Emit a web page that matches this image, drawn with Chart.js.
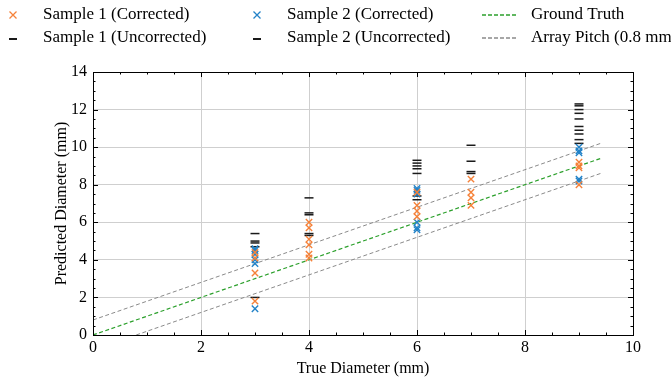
<!DOCTYPE html>
<html>
<head>
<meta charset="utf-8">
<script src="https://cdn.jsdelivr.net/npm/chart.js@4.4.1/dist/chart.umd.min.js"></script>
<style>
  html, body { margin: 0; padding: 0; background: #fff; overflow: hidden; }
  #wrap { width: 671px; height: 379px; position: relative; }
</style>
</head>
<body>
<div id="wrap"><canvas id="diamChart" width="671" height="379"></canvas></div>
<script>
// predicted vs true diameter, two samples, corrected and uncorrected
const s1CorrX = [3, 3, 3, 3, 4, 4, 4, 4, 4, 4, 6, 6, 6, 6, 7, 7, 7, 7, 9, 9, 9, 9];
const s1CorrY = [4.4, 4.1, 3.3, 1.8, 6.0, 5.7, 5.1, 4.8, 4.3, 4.1, 7.6, 6.9, 6.6, 6.3, 8.3, 7.6, 7.3, 6.9, 9.2, 9.0, 8.9, 8.0];

const s2CorrX = [3, 3, 3, 3, 3, 3, 6, 6, 6, 6, 6, 6, 9, 9, 9, 9, 9];
const s2CorrY = [4.6, 4.5, 4.3, 4.0, 3.8, 1.4, 7.8, 7.7, 7.5, 6.0, 5.7, 5.6, 10.0, 9.8, 9.7, 8.3, 8.2];

const s1UncX = [3, 3, 3, 4, 4, 4, 6, 6, 6, 7, 7, 9, 9, 9, 9, 9];
const s1UncY = [5.0, 4.7, 2.0, 7.3, 6.4, 5.4, 9.3, 9.0, 7.4, 10.1, 8.7, 12.3, 12.0, 11.5, 10.9, 10.4];

const s2UncX = [3, 3, 4, 4, 6, 6, 6, 6, 7, 7, 9, 9, 9, 9, 9];
const s2UncY = [5.4, 4.9, 6.5, 5.3, 9.15, 8.85, 8.6, 7.2, 9.25, 8.6, 12.2, 11.8, 11.1, 10.7, 10.2];

const truthX = [0, 9.4];
const truthY = [0, 9.4];
const pitchHiX = [0, 9.4];
const pitchHiY = [0.8, 10.2];
const pitchLoX = [0.8, 9.4];
const pitchLoY = [0, 8.6];

const xTicks = [0, 2, 4, 6, 8, 10];
const yTicks = [0, 2, 4, 6, 8, 10, 12, 14];

const ORANGE = '#f5823a';
const BLUE = '#2383c8';
const GREEN = '#2ca02c';
const GREY = '#8a8a8a';
const FONT = "'Liberation Serif', 'DejaVu Serif', serif";

function pts(xs, ys) {
    return xs.map((x, i) => ({ x: x, y: ys[i] }));
}

// inward ticks on all four sides plus the closed frame
const frameTicks = {
    id: 'frameTicks',
    afterDatasetsDraw(chart) {
        const { ctx, chartArea: a, scales } = chart;
        ctx.save();
        ctx.strokeStyle = '#000';
        ctx.lineWidth = 1;
        for (let v = 0; v <= 10.001; v += 0.5) {
            const px = Math.round(scales.x.getPixelForValue(v)) + 0.5;
            const len = Math.abs(v % 2) < 0.01 ? 5 : 2.5;
            ctx.beginPath();
            ctx.moveTo(px, a.bottom); ctx.lineTo(px, a.bottom - len);
            ctx.moveTo(px, a.top); ctx.lineTo(px, a.top + len);
            ctx.stroke();
        }
        for (let v = 0; v <= 14.001; v += 0.5) {
            const py = Math.round(scales.y.getPixelForValue(v)) + 0.5;
            const len = Math.abs(v % 2) < 0.01 ? 5 : 2.5;
            ctx.beginPath();
            ctx.moveTo(a.left, py); ctx.lineTo(a.left + len, py);
            ctx.moveTo(a.right, py); ctx.lineTo(a.right - len, py);
            ctx.stroke();
        }
        ctx.strokeRect(Math.round(a.left) + 0.5, Math.round(a.top) + 0.5,
            Math.round(a.right - a.left), Math.round(a.bottom - a.top));
        ctx.restore();
    }
};

// three-column legend above the axes
const topLegend = {
    id: 'topLegend',
    afterDraw(chart) {
        const ctx = chart.ctx;
        const rows = [15, 38];
        const items = [
            { kind: 'x', color: ORANGE, mx: 13, tx: 43, row: 0, text: 'Sample 1 (Corrected)' },
            { kind: 'dash', color: '#000', mx: 13, tx: 43, row: 1, text: 'Sample 1 (Uncorrected)' },
            { kind: 'x', color: BLUE, mx: 257, tx: 287, row: 0, text: 'Sample 2 (Corrected)' },
            { kind: 'dash', color: '#000', mx: 257, tx: 287, row: 1, text: 'Sample 2 (Uncorrected)' },
            { kind: 'line', color: GREEN, mx: 482, tx: 531, row: 0, text: 'Ground Truth' },
            { kind: 'line', color: GREY, mx: 482, tx: 531, row: 1, text: 'Array Pitch (0.8 mm)' }
        ];
        ctx.save();
        ctx.font = '17px ' + FONT;
        ctx.textBaseline = 'middle';
        ctx.fillStyle = '#000';
        items.forEach(it => {
            const y = rows[it.row];
            ctx.strokeStyle = it.color;
            ctx.beginPath();
            if (it.kind === 'x') {
                ctx.lineWidth = 1.3;
                ctx.moveTo(it.mx - 3.5, y - 3.5); ctx.lineTo(it.mx + 3.5, y + 3.5);
                ctx.moveTo(it.mx - 3.5, y + 3.5); ctx.lineTo(it.mx + 3.5, y - 3.5);
                ctx.stroke();
            } else if (it.kind === 'dash') {
                ctx.lineWidth = 1.8;
                ctx.moveTo(it.mx - 4, y + 1); ctx.lineTo(it.mx + 4, y + 1);
                ctx.stroke();
            } else {
                ctx.lineWidth = 1.3;
                ctx.setLineDash([4, 2]);
                ctx.moveTo(it.mx, y); ctx.lineTo(it.mx + 35, y);
                ctx.stroke();
                ctx.setLineDash([]);
            }
            ctx.fillText(it.text, it.tx, y);
        });
        ctx.restore();
    }
};

const ctx = document.getElementById('diamChart').getContext('2d');
new Chart(ctx, {
    type: 'scatter',
    data: {
        datasets: [
            {
                label: 'Sample 1 (Corrected)', data: pts(s1CorrX, s1CorrY), order: 1,
                pointStyle: 'crossRot', radius: 4.5, borderWidth: 1.4,
                borderColor: ORANGE, backgroundColor: ORANGE
            },
            {
                label: 'Sample 2 (Corrected)', data: pts(s2CorrX, s2CorrY), order: 2,
                pointStyle: 'crossRot', radius: 4.5, borderWidth: 1.4,
                borderColor: BLUE, backgroundColor: BLUE
            },
            {
                label: 'Sample 1 (Uncorrected)', data: pts(s1UncX, s1UncY), order: 3,
                pointStyle: 'line', radius: 4.5, borderWidth: 1.5,
                borderColor: '#1a1a1a', backgroundColor: '#1a1a1a'
            },
            {
                label: 'Sample 2 (Uncorrected)', data: pts(s2UncX, s2UncY), order: 4,
                pointStyle: 'line', radius: 4.5, borderWidth: 1.5,
                borderColor: '#1a1a1a', backgroundColor: '#1a1a1a'
            },
            {
                label: 'Ground Truth', data: pts(truthX, truthY), order: 5,
                showLine: true, pointRadius: 0, borderColor: GREEN, borderWidth: 1.2,
                borderDash: [4, 2.5]
            },
            {
                label: 'Array Pitch (0.8 mm)', data: pts(pitchHiX, pitchHiY), order: 6,
                showLine: true, pointRadius: 0, borderColor: GREY, borderWidth: 1,
                borderDash: [4, 2.5]
            },
            {
                label: 'Array Pitch (lower)', data: pts(pitchLoX, pitchLoY), order: 7,
                showLine: true, pointRadius: 0, borderColor: GREY, borderWidth: 1,
                borderDash: [4, 2.5]
            }
        ]
    },
    options: {
        responsive: false,
        animation: false,
        layout: { padding: { top: 72, right: 38, left: 0, bottom: 0 } },
        plugins: {
            legend: { display: false },
            tooltip: { enabled: false }
        },
        scales: {
            x: {
                type: 'linear', min: 0, max: 10,
                afterFit: s => { s.height = 44; },
                afterBuildTicks: s => { s.ticks = xTicks.map(v => ({ value: v })); },
                grid: { color: '#cfcfcf', lineWidth: 1, drawTicks: false },
                border: { display: false },
                ticks: { color: '#000', padding: 3, font: { family: FONT, size: 16 } },
                title: {
                    display: true, text: 'True Diameter (mm)', color: '#000',
                    font: { family: FONT, size: 16 }, padding: { top: 0, bottom: 1 }
                }
            },
            y: {
                type: 'linear', min: 0, max: 14,
                afterFit: s => { s.width = 93; },
                afterBuildTicks: s => { s.ticks = yTicks.map(v => ({ value: v })); },
                grid: { color: '#cfcfcf', lineWidth: 1, drawTicks: false },
                border: { display: false },
                ticks: { color: '#000', padding: 6, font: { family: FONT, size: 16 } },
                title: {
                    display: true, text: 'Predicted Diameter (mm)', color: '#000',
                    font: { family: FONT, size: 16 }, padding: { top: 52, bottom: 0 }
                }
            }
        }
    },
    plugins: [frameTicks, topLegend]
});
</script>
</body>
</html>
